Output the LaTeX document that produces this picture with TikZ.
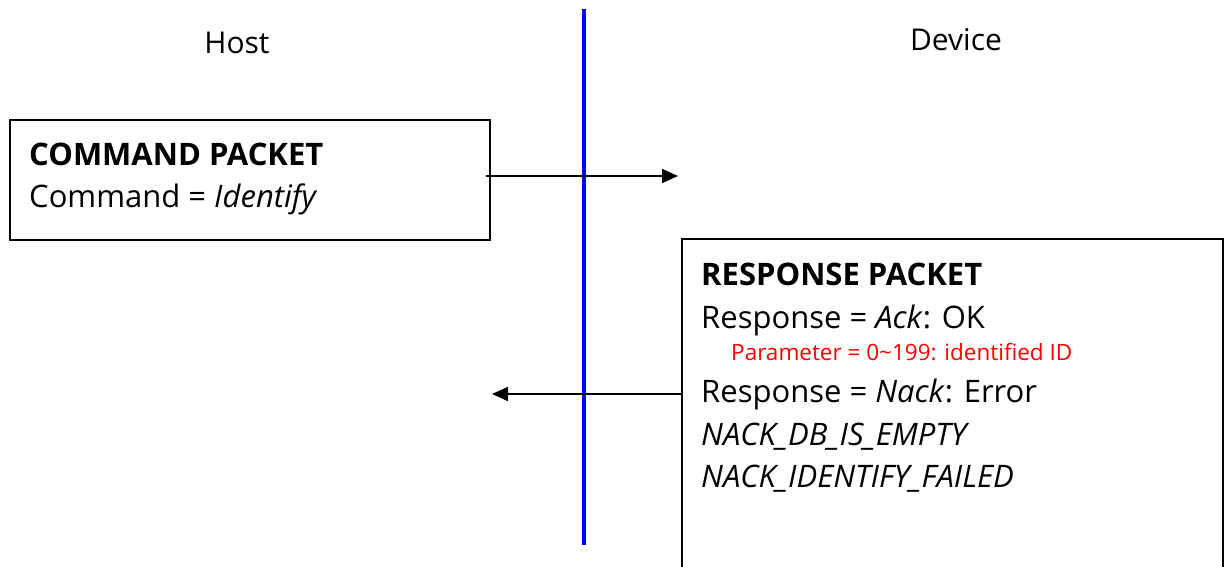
\documentclass[tikz,border=0pt]{standalone}
\usepackage{fontspec}
\setmainfont{Open Sans}
\usetikzlibrary{arrows.meta}

\tikzset{
  packet/.style={draw, line width=1.8pt, anchor=north west, inner sep=0pt},
  txt/.style={anchor=base west, inner sep=0pt, font=\fontsize{31}{36}\selectfont},
  note/.style={anchor=base west, inner sep=0pt, text=red, font=\fontsize{22.5}{27}\selectfont},
  msg/.style={line width=1.8pt, -{Triangle[length=16pt,width=14pt]}}
}

\begin{document}
\begin{tikzpicture}[x=1pt, y=-1pt]
			\useasboundingbox (0,0) rectangle (1226,567);
			\node[font=\fontsize{30}{36}\selectfont] (host) at (237,43) {Host};
			\node[font=\fontsize{30}{36}\selectfont] (device) at (956,40) {Device};
			\coordinate (top) at (584,9);
			\coordinate (bottom) at (584,545);
			\draw[blue, line width=3.5pt] (top) -- (bottom);
			% command box
			\node[packet, minimum width=480pt, minimum height=120pt] (cmdbox) at (9,119) {};
			\node[txt] (cmdtitle) at (29,165) {\textbf{COMMAND PACKET}};
			\node[txt] (cmdline) at (29,207) {Command = \textit{Identify}};
			% response box
			\node[packet, minimum width=541pt, minimum height=360pt] (rspbox) at (681,238) {};
			\node[txt] (rsptitle) at (701,285) {\textbf{RESPONSE PACKET}};
			\node[txt] (ack) at (701,328) {Response = \textit{Ack}: OK};
			\node[note] (param) at (731,360) {Parameter = 0\char"007E 199: identified ID};
			\node[txt] (nack) at (701,402) {Response = \textit{Nack}: Error};
			\node[txt] (err1) at (701,445) {\textit{NACK\_DB\_IS\_EMPTY}};
			\node[txt] (err2) at (701,487) {\textit{NACK\_IDENTIFY\_FAILED}};
			% messages
			\coordinate (cmdend) at (678,176);
			\coordinate (rspend) at (492,394);
			\draw[msg] (cmdbox.east |- cmdend) ++(-5,0) -- (cmdend);
			\draw[msg] (rspbox.west |- rspend) -- (rspend);
			\end{tikzpicture}
\end{document}
